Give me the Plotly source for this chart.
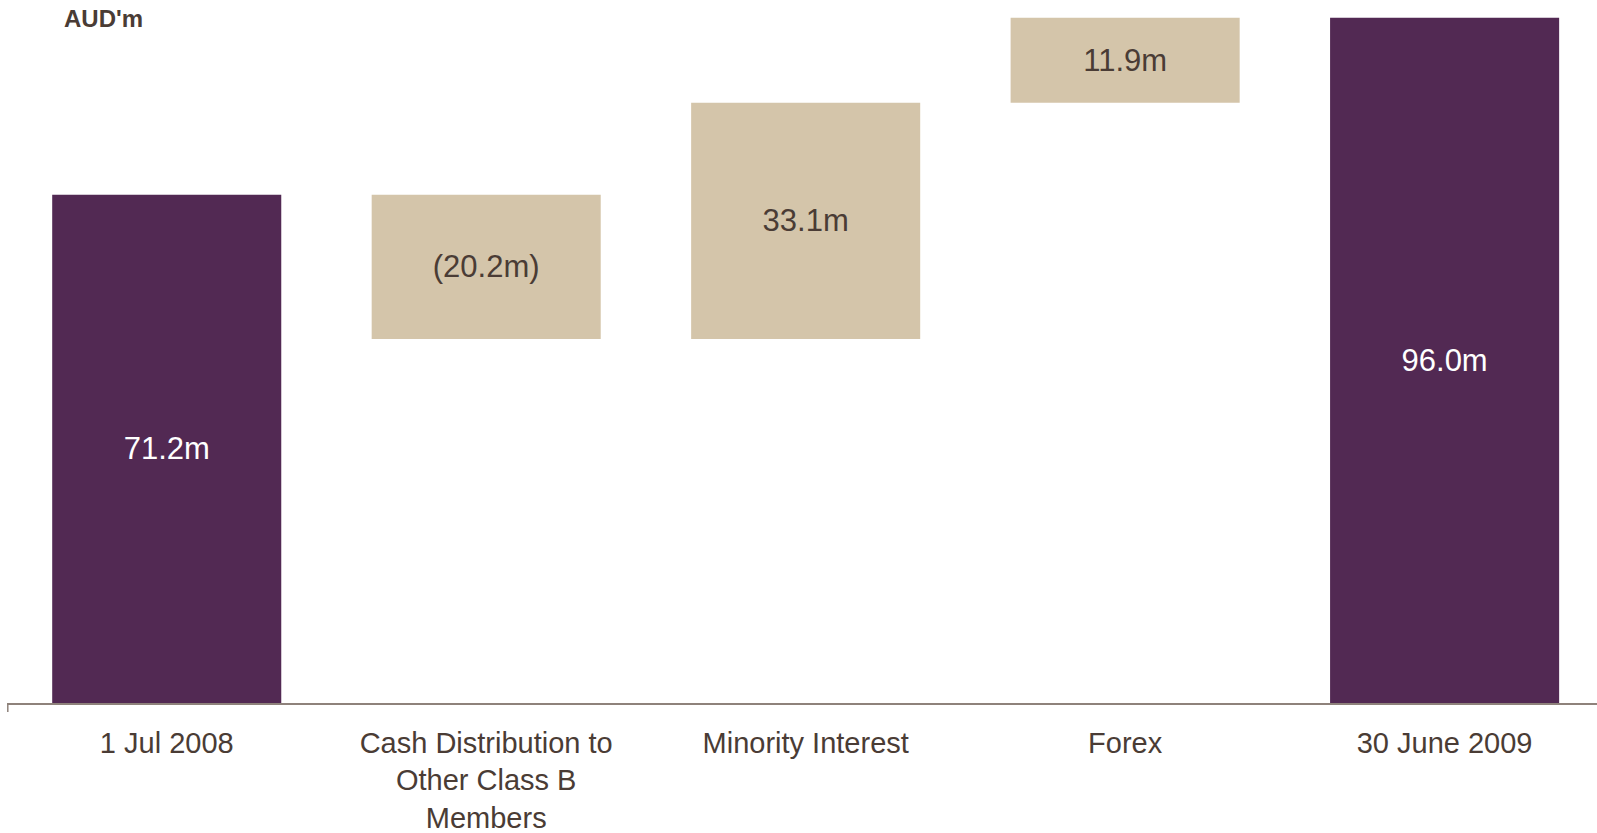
import plotly.graph_objects as go

# ---- data ----
categories = ["1 Jul 2008", "Cash Distribution to Other Class B Members",
              "Minority Interest", "Forex", "30 June 2009"]
tick_labels = ["1 Jul 2008", "Cash Distribution to<br>Other Class B<br>Members",
               "Minority Interest", "Forex", "30 June 2009"]
values = [71.2, -20.2, 33.1, 11.9, 96.0]
measures = ["absolute", "relative", "relative", "relative", "total"]
unit_label = "AUD'm"

PURPLE = "#522953"
TAN = "#D4C5AA"
TEXT = "#4A3C35"
AXIS = "#8E827B"
FONT = "Liberation Sans, Arial, sans-serif"

def fmt(v):
    return f"({abs(v):.1f}m)" if v < 0 else f"{v:.1f}m"

labels = [fmt(v) for v in values]
label_colors = ["white" if m in ("absolute", "total") else TEXT for m in measures]
xpos = list(range(len(categories)))

fig = go.Figure(go.Waterfall(
    x=xpos,
    y=values,
    measure=measures,
    text=labels,
    textposition="inside",
    insidetextanchor="middle",
    textangle=0,
    constraintext="none",
    insidetextfont=dict(family=FONT, size=31, color=label_colors),
    width=0.717,
    increasing=dict(marker=dict(color=TAN)),
    decreasing=dict(marker=dict(color=TAN)),
    totals=dict(marker=dict(color=PURPLE)),
    connector=dict(visible=False),
    hoverinfo="skip",
    customdata=categories,
))

W, H = 1597, 833
ml, mr, mt, mb = 7, 0, 0, 130
plot_h = H - mt - mb

fig.update_layout(
    width=W, height=H,
    margin=dict(l=ml, r=mr, t=mt, b=mb, pad=0, autoexpand=False),
    paper_bgcolor="white", plot_bgcolor="white",
    showlegend=False,
    font=dict(family=FONT, color=TEXT),
    xaxis=dict(
        range=[-0.5, 4.477], automargin=False,
        tickmode="array", tickvals=xpos, ticktext=tick_labels,
        showgrid=False, zeroline=False,
        showline=True, linecolor=AXIS, linewidth=1.5,
        ticks="", ticklabelstandoff=13,
        tickfont=dict(family=FONT, size=29, color=TEXT),
    ),
    yaxis=dict(
        range=[0, 98.5], visible=False, showgrid=False, zeroline=False,
        automargin=False,
    ),
    annotations=[dict(
        text=f"<b>{unit_label}</b>", xref="paper", yref="paper",
        x=(62 - ml) / (W - ml - mr), y=(plot_h - 19) / plot_h,
        xanchor="left", yanchor="middle", showarrow=False,
        font=dict(family=FONT, size=24, color=TEXT),
    )],
    shapes=[dict(
        type="line", xref="paper", yref="paper",
        x0=0.0005, x1=0.0005, y0=0, y1=-9 / plot_h,
        line=dict(color=AXIS, width=1.5),
    )],
)

fig.write_html(
    "out.html",
    config={"displayModeBar": False},
    post_script="document.body.style.margin='0';document.body.style.overflow='hidden';",
)
